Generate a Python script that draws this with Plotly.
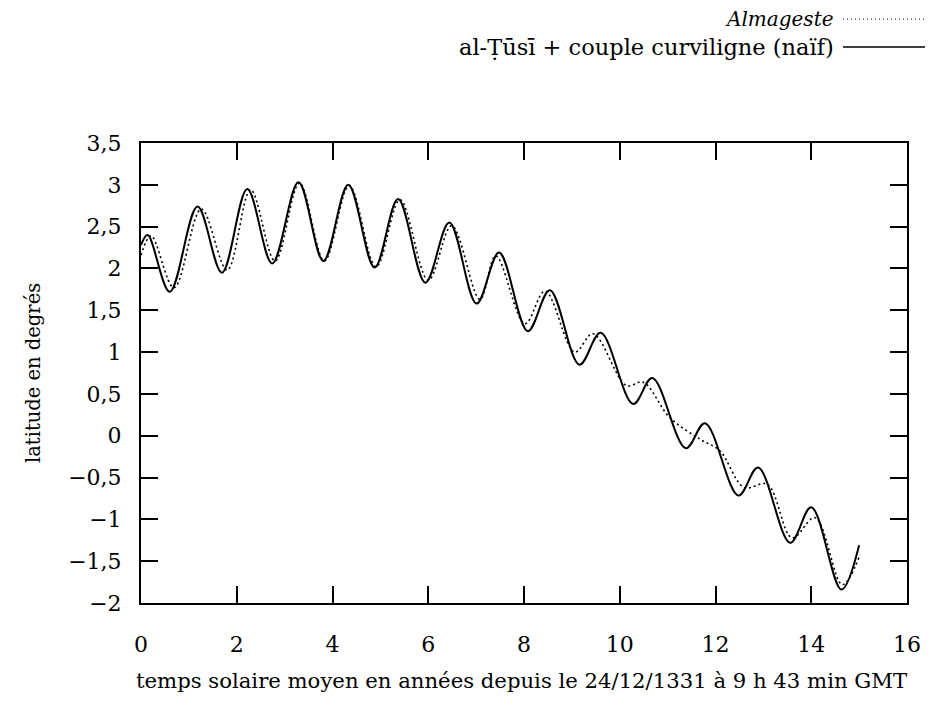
import plotly.graph_objects as go

# --- data ---
tusi_x = [0.0, 0.14, 0.60, 1.18, 1.69, 2.22, 2.74, 3.29, 3.81, 4.33, 4.88, 5.37, 5.94, 6.44,
          7.01, 7.48, 8.08, 8.54, 9.16, 9.60, 10.28, 10.68, 11.38, 11.78, 12.48, 12.89,
          13.56, 14.00, 14.63, 15.0]
tusi_y = [2.28, 2.40, 1.72, 2.74, 1.95, 2.95, 2.06, 3.03, 2.09, 3.00, 2.01, 2.83, 1.83, 2.55,
          1.58, 2.19, 1.25, 1.74, 0.85, 1.23, 0.38, 0.69, -0.15, 0.15, -0.715, -0.38,
          -1.28, -0.855, -1.84, -1.31]

alm_x = [0.0, 0.21, 0.69, 1.26, 1.80, 2.29, 2.80, 3.31, 3.83, 4.35, 4.91, 5.41, 6.00, 6.49,
         7.08, 7.41, 8.02, 8.44, 9.06, 9.44, 10.14, 10.49, 11.04, 11.67, 12.09, 12.60,
         13.08, 13.60, 14.08, 14.65, 15.0]
alm_y = [2.16, 2.39, 1.77, 2.71, 1.98, 2.94, 2.09, 3.02, 2.09, 2.99, 2.02, 2.82, 1.86, 2.51,
         1.63, 2.15, 1.34, 1.73, 1.00, 1.22, 0.60, 0.64, 0.22, -0.04, -0.18, -0.62,
         -0.58, -1.22, -0.98, -1.78, -1.45]

x_ticks = [0, 2, 4, 6, 8, 10, 12, 14, 16]
y_ticks = [-2, -1.5, -1, -0.5, 0, 0.5, 1, 1.5, 2, 2.5, 3, 3.5]
y_tick_text = ["\u22122", "\u22121,5", "\u22121", "\u22120,5", "0", "0,5", "1", "1,5",
               "2", "2,5", "3", "3,5"]

series_names = ["Almageste", "al-\u1E6C\u016Bs\u012B + couple curviligne (na\u00EFf)"]

FONT = "DejaVu Serif"

fig = go.Figure()
fig.add_trace(go.Scatter(x=alm_x, y=alm_y, mode="lines", name=series_names[0],
                         line=dict(color="black", width=1.6, dash="2px,3px",
                                   shape="spline", smoothing=1.0),
                         showlegend=False))
fig.add_trace(go.Scatter(x=tusi_x, y=tusi_y, mode="lines", name=series_names[1],
                         line=dict(color="black", width=2, shape="spline", smoothing=1.0),
                         showlegend=False))

axis_common = dict(showline=True, linecolor="black", linewidth=2, mirror="ticks",
                   ticks="inside", ticklen=17, tickwidth=1.5, tickcolor="black",
                   showgrid=False, zeroline=False,
                   tickfont=dict(family=FONT, size=22, color="black"))

fig.update_xaxes(range=[0, 16], tickvals=x_ticks, ticktext=[str(v) for v in x_ticks],
                 ticklabelstandoff=21, **axis_common)
fig.update_yaxes(range=[-2, 3.5], tickvals=y_ticks, ticktext=y_tick_text,
                 ticklabelstandoff=13, **axis_common)

# page has an 8px body margin: plot area should land at 141..907 x 143..603 on screen
L, T, R, B = 141 - 8, 143 - 8, 907 - 8, 603 - 8
fig.update_layout(
    width=933, height=709,
    margin=dict(l=L, r=933 - R, t=T, b=709 - B),
    paper_bgcolor="white", plot_bgcolor="white",
    font=dict(family=FONT, size=20, color="black"),
)

W = R - L
H = B - T

# axis titles
fig.add_annotation(text="temps solaire moyen en années depuis le 24/12/1331 à 9 h 43 min GMT",
                   xref="paper", yref="paper", x=0.5, y=0, yanchor="middle",
                   xshift=-3, yshift=-77, showarrow=False, font=dict(family=FONT, size=21.2))
fig.add_annotation(text="latitude en degrés", xref="paper", yref="paper", x=0, y=0.5,
                   xanchor="center", yanchor="middle", xshift=-108, textangle=-90,
                   showarrow=False, font=dict(family=FONT, size=19.5))

# legend (text right-aligned, sample to the right), screen coords -> paper
def px_x(p):
    return (p - 8 - L) / W

def px_y(p):
    return (B - (p - 8)) / H

leg_text_x = px_x(835)
leg_x0 = px_x(843)
leg_x1 = px_x(926)

fig.add_annotation(text="<i>" + series_names[0] + "</i>", xref="paper", yref="paper",
                   x=leg_text_x, y=px_y(19), xanchor="right", yanchor="middle",
                   borderpad=0, showarrow=False, font=dict(family=FONT, size=20))
fig.add_annotation(text=series_names[1], xref="paper", yref="paper",
                   x=leg_text_x, y=px_y(47), xanchor="right", yanchor="middle",
                   borderpad=0, showarrow=False, font=dict(family=FONT, size=22.5))
fig.add_shape(type="line", xref="paper", yref="paper", x0=leg_x0, x1=leg_x1,
              y0=px_y(19), y1=px_y(19), line=dict(color="black", width=1.2, dash="1px,3px"))
fig.add_shape(type="line", xref="paper", yref="paper", x0=leg_x0, x1=leg_x1,
              y0=px_y(47), y1=px_y(47), line=dict(color="black", width=1.5))

fig.write_html("out.html")
